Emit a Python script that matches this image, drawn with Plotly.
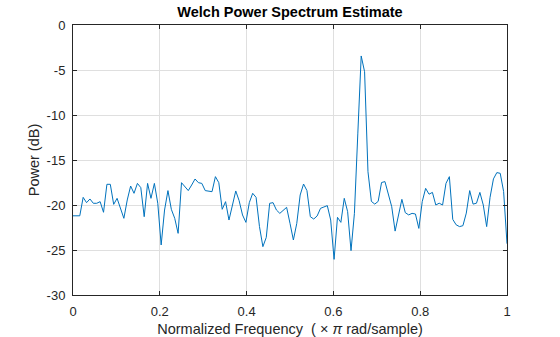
import numpy as np
import plotly.graph_objects as go

# Welch PSD estimate, 129 bins from 0 to 1 (x pi rad/sample)
power_db = [
    -21.2, -21.2, -21.2, -19.15, -19.74, -19.33, -19.81, -19.81, -19.63, -20.81,
    -17.7, -17.7, -19.93, -19.26, -20.37, -21.48, -19.44, -17.89, -18.7, -17.6,
    -18.07, -21.3, -17.6, -19.26, -17.6, -19.81, -24.44, -20.56, -18.4, -20.48,
    -21.48, -23.15, -17.52, -17.96, -18.4, -17.78, -17.11, -17.52, -17.6, -18.4,
    -18.46, -18.52, -16.85, -17.52, -20.48, -19.63, -21.67, -19.9, -18.44, -19.52,
    -21.11, -21.93, -19.74, -18.7, -19.15, -22.4, -24.63, -23.6, -19.81, -19.74,
    -20.56, -20.93, -20.63, -20.26, -22.04, -23.89, -22.04, -18.89, -17.67, -18.4,
    -21.3, -21.56, -21.22, -20.37, -20.22, -20.07, -21.67, -26.04, -21.37, -21.93,
    -19.26, -20.74, -25.07, -20.93, -12.1, -3.44, -5.19, -16.3, -19.6, -19.9,
    -19.6, -17.5, -17.4, -18.9, -20.19, -22.9, -20.93, -19.37, -20.85, -21.1,
    -20.93, -21.0, -22.6, -19.63, -18.15, -18.8, -18.6, -20.0, -19.8, -20.0,
    -17.6, -16.85, -21.6, -22.2, -22.4, -22.3, -20.9, -18.4, -19.9, -19.8,
    -18.6, -20.0, -22.4, -19.15, -17.1, -16.4, -16.48, -18.5, -24.3,
]
freq = np.linspace(0, 1, len(power_db))

x_ticks = [0, 0.2, 0.4, 0.6, 0.8, 1]
x_tick_text = ["0", "0.2", "0.4", "0.6", "0.8", "1"]
y_ticks = [0, -5, -10, -15, -20, -25, -30]
y_tick_text = ["0", "-5", "-10", "-15", "-20", "-25", "-30"]

title_text = "Welch Power Spectrum Estimate"
x_label = "Normalized Frequency\u00a0\u00a0(\u00a0\u00d7\u00a0<i>\u03c0</i> rad/sample)"
y_label = "Power (dB)"

font_family = "Liberation Sans, Arial, Helvetica, sans-serif"
ax_color = "#262626"
grid_color = "#dfdfdf"

fig = go.Figure()
fig.add_trace(go.Scatter(
    x=freq, y=power_db, mode="lines",
    line=dict(color="#0072BD", width=1),
    showlegend=False, hoverinfo="skip",
))

axis_common = dict(
    showline=True, linecolor=ax_color, linewidth=1, mirror="ticks",
    ticks="inside", ticklen=4, tickwidth=1, tickcolor=ax_color,
    showgrid=True, gridcolor=grid_color, gridwidth=1,
    zeroline=False, automargin=False,
    tickfont=dict(family=font_family, size=13, color=ax_color),
)

fig.update_xaxes(
    range=[0, 1], tickvals=x_ticks, ticktext=x_tick_text,
    ticklabelstandoff=4,
    title=dict(text=x_label, font=dict(family=font_family, size=14.5, color=ax_color), standoff=7),
    **axis_common,
)
fig.update_yaxes(
    range=[-30, 0], tickvals=y_ticks, ticktext=y_tick_text,
    ticklabelstandoff=4,
    title=dict(text=y_label, font=dict(family=font_family, size=14.5, color=ax_color), standoff=3),
    **axis_common,
)

fig.update_layout(
    width=560, height=337, autosize=False,
    margin=dict(l=73, r=53, t=25, b=42, pad=0),
    paper_bgcolor="white", plot_bgcolor="white",
    title=dict(text="<b>" + title_text + "</b>", x=0.5, xanchor="center",
               xref="paper", y=1, yref="paper", yanchor="bottom", pad=dict(b=8),
               font=dict(family=font_family, size=14.5, color="#000000")),
)

fig.write_html("out.html")
